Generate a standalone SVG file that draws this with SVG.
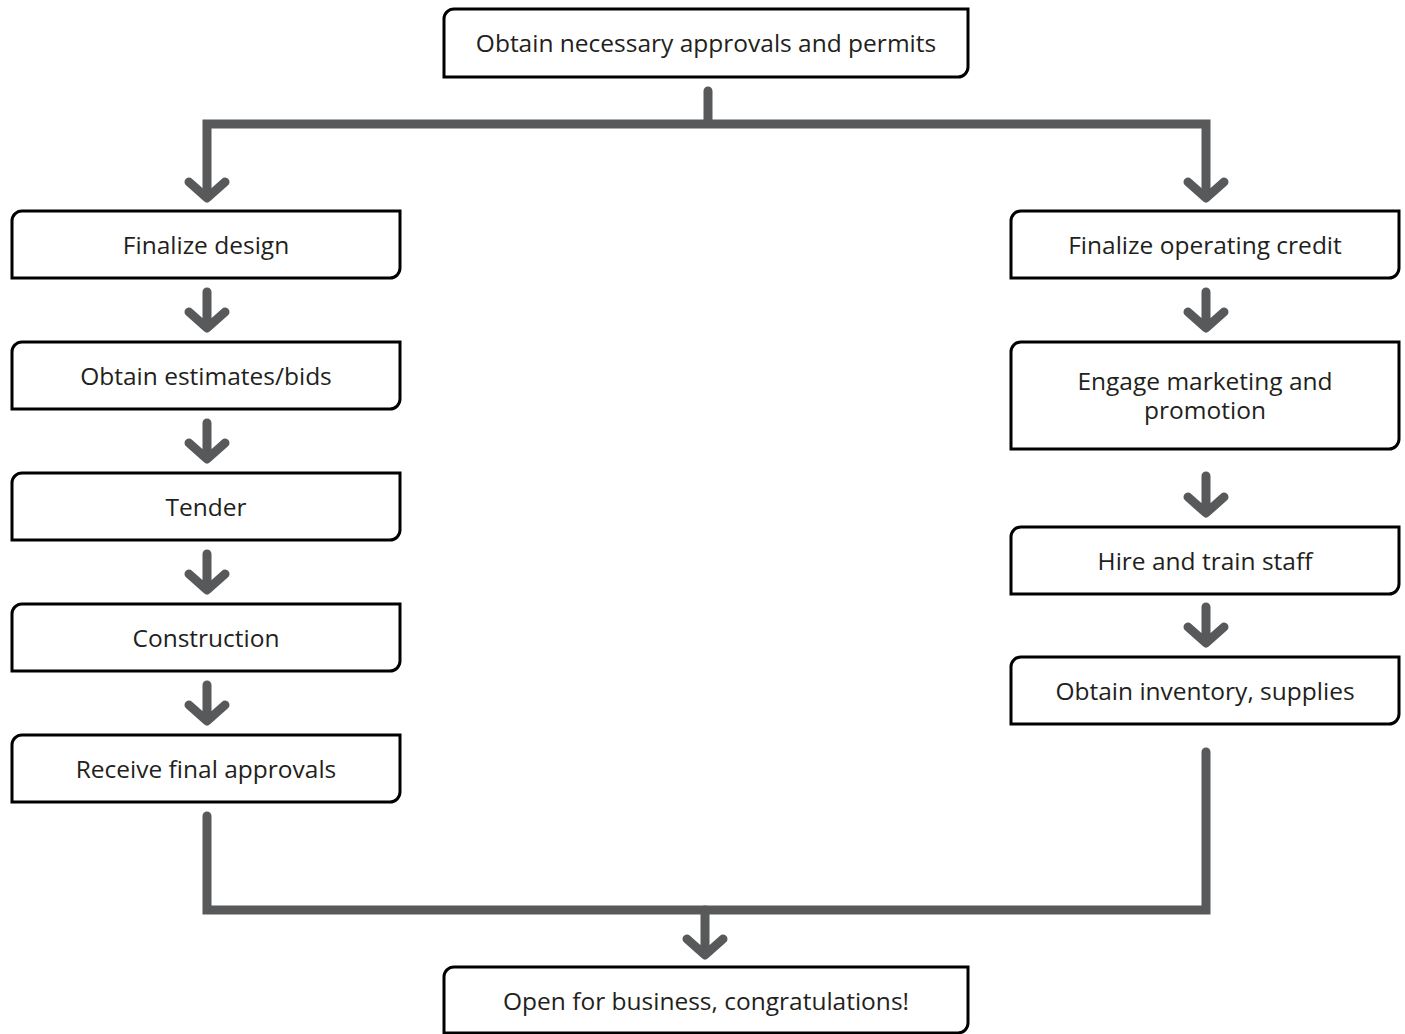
<svg xmlns="http://www.w3.org/2000/svg" width="1405" height="1034" viewBox="0 0 1405 1034">
<style>
.box{fill:#fff;stroke:#000;stroke-width:3}
.t{font-family:"Open Sans","Noto Sans",sans-serif;font-size:24.5px;fill:#231f20;text-anchor:middle}
.c{fill:none;stroke:#58595b;stroke-width:9;stroke-linecap:round;stroke-linejoin:round}
.m{stroke-linejoin:miter}
</style>
<rect width="1405" height="1034" fill="#fff"/>
<g id="connectors">
<path class="c m" d="M708 91V124M207 190V124H1206V190"/>
<path class="c" d="M189 182L207 198L225 182M1188 182L1206 198L1224 182"/>
<path class="c" d="M207 292V326M189 312L207 328L225 312"/>
<path class="c" d="M207 423V457M189 443L207 459L225 443"/>
<path class="c" d="M207 554V588M189 574L207 590L225 574"/>
<path class="c" d="M207 685V719M189 705L207 721L225 705"/>
<path class="c" d="M1206 292V326M1188 312L1206 328L1224 312"/>
<path class="c" d="M1206 476V511M1188 497L1206 513L1224 497"/>
<path class="c" d="M1206 607V641M1188 627L1206 643L1224 627"/>
<path class="c m" d="M207 816V910H1206V752"/>
<path class="c" d="M705 910V953M687 939L705 955L723 939"/>
</g>
<g id="n1"><path class="box" d="M444 19A10 10 0 0 1 454 9H968V67A10 10 0 0 1 958 77H444Z"/><text class="t" x="706" y="52">Obtain necessary approvals and permits</text></g>
<g id="n2"><path class="box" d="M12 221A10 10 0 0 1 22 211H400V268A10 10 0 0 1 390 278H12Z"/><text class="t" x="206" y="254">Finalize design</text></g>
<g id="n3"><path class="box" d="M12 352A10 10 0 0 1 22 342H400V399A10 10 0 0 1 390 409H12Z"/><text class="t" x="206" y="385">Obtain estimates/bids</text></g>
<g id="n4"><path class="box" d="M12 483A10 10 0 0 1 22 473H400V530A10 10 0 0 1 390 540H12Z"/><text class="t" x="206" y="516">Tender</text></g>
<g id="n5"><path class="box" d="M12 614A10 10 0 0 1 22 604H400V661A10 10 0 0 1 390 671H12Z"/><text class="t" x="206" y="647">Construction</text></g>
<g id="n6"><path class="box" d="M12 745A10 10 0 0 1 22 735H400V792A10 10 0 0 1 390 802H12Z"/><text class="t" x="206" y="778">Receive final approvals</text></g>
<g id="n7"><path class="box" d="M1011 221A10 10 0 0 1 1021 211H1399V268A10 10 0 0 1 1389 278H1011Z"/><text class="t" x="1205" y="254">Finalize operating credit</text></g>
<g id="n8"><path class="box" d="M1011 352A10 10 0 0 1 1021 342H1399V439A10 10 0 0 1 1389 449H1011Z"/><text class="t" x="1205" y="390">Engage marketing and<tspan x="1205" dy="29">promotion</tspan></text></g>
<g id="n9"><path class="box" d="M1011 537A10 10 0 0 1 1021 527H1399V584A10 10 0 0 1 1389 594H1011Z"/><text class="t" x="1205" y="570">Hire and train staff</text></g>
<g id="n10"><path class="box" d="M1011 667A10 10 0 0 1 1021 657H1399V714A10 10 0 0 1 1389 724H1011Z"/><text class="t" x="1205" y="700">Obtain inventory, supplies</text></g>
<g id="n11"><path class="box" d="M444 977A10 10 0 0 1 454 967H968V1023A10 10 0 0 1 958 1033H444Z"/><text class="t" x="706" y="1010">Open for business, congratulations!</text></g>
</svg>
